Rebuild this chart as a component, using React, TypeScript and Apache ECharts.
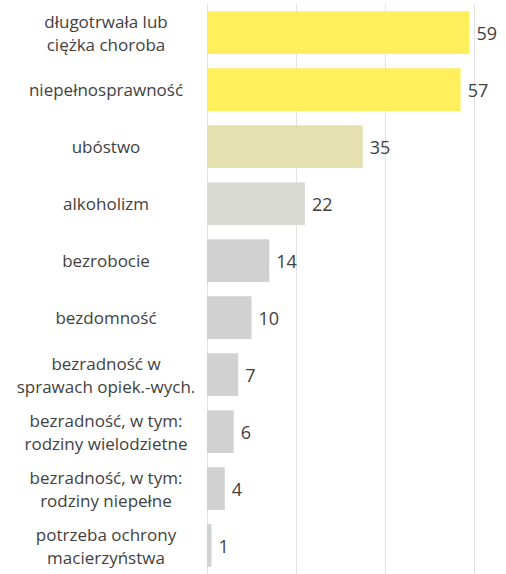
import React, { useEffect, useRef } from "react";
import * as echarts from "echarts";

const categories = [
  "długotrwała lub\nciężka choroba",
  "niepełnosprawność",
  "ubóstwo",
  "alkoholizm",
  "bezrobocie",
  "bezdomność",
  "bezradność w\nsprawach opiek.-wych.",
  "bezradność, w tym:\nrodziny wielodzietne",
  "bezradność, w tym:\nrodziny niepełne",
  "potrzeba ochrony\nmacierzyństwa",
];
const values = [59, 57, 35, 22, 14, 10, 7, 6, 4, 1];
const barColors = [
  "#FFEF5C",
  "#FFEF5C",
  "#E4E0B0",
  "#DADAD4",
  "#D1D1D1",
  "#D1D1D1",
  "#D1D1D1",
  "#D1D1D1",
  "#D1D1D1",
  "#D1D1D1",
];

const FONT = "'Open Sans', 'Noto Sans', sans-serif";

export default function App() {
  const ref = useRef<HTMLDivElement>(null);
  useEffect(() => {
    if (!ref.current) return;
    const chart = echarts.init(ref.current, undefined, { renderer: "svg" });
    chart.setOption({
      animation: false,
      backgroundColor: "#ffffff",
      grid: { left: 207, top: 4, width: 267, height: 574 },
      xAxis: {
        type: "value",
        min: 0,
        max: 60,
        interval: 20,
        axisLabel: { show: false },
        axisLine: { show: false },
        axisTick: { show: false },
        splitLine: { show: true, lineStyle: { color: "#E2E2E2", width: 1 } },
      },
      yAxis: {
        type: "category",
        inverse: true,
        data: categories,
        axisLine: { show: false },
        axisTick: { show: false },
        axisLabel: {
          align: "center",
          margin: 101,
          fontFamily: FONT,
          fontSize: 17,
          lineHeight: 23,
          color: "#3F3F3F",
        },
      },
      series: [
        {
          type: "bar",
          data: values.map((v, i) => ({ value: v, itemStyle: { color: barColors[i] } })),
          barCategoryGap: "25%",
          label: {
            show: true,
            position: "right",
            distance: 7,
            fontFamily: FONT,
            fontSize: 18,
            color: "#3F3F3F",
          },
        },
      ],
    });
    return () => chart.dispose();
  }, []);
  return (
    <div
      ref={ref}
      style={{ position: "absolute", left: 0, top: 0, width: 506, height: 574 }}
    />
  );
}
